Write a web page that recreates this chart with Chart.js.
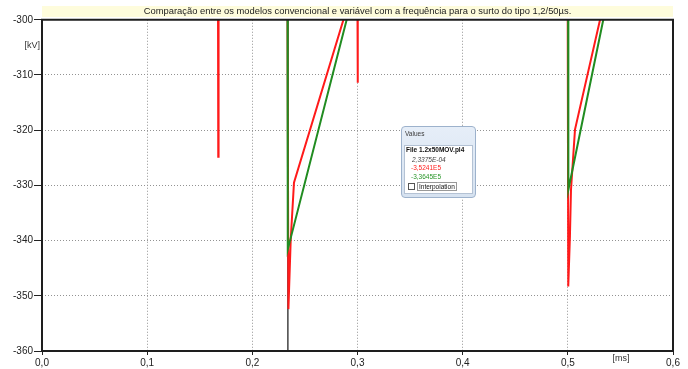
<!DOCTYPE html>
<html>
<head>
<meta charset="utf-8">
<script src="https://cdn.jsdelivr.net/npm/chart.js@4/dist/chart.umd.min.js"></script>
<style>
  html, body { margin: 0; padding: 0; background: #fff; }
  #wrap { position: relative; width: 688px; height: 369px; }
  canvas { display: block; }
  #vals { position: absolute; left: 401px; top: 126px; width: 73px; height: 70px;
          border: 1px solid #9db2cc; border-radius: 4px;
          background: linear-gradient(#e6eef8, #d6e2f0);
          font-family: "Liberation Sans", Arial, sans-serif; font-size: 6.5px; color: #333; }
  #vals .cap { position: absolute; left: 3px; top: 3px; color: #3a3a3a; }
  #vals .inner { position: absolute; left: 2px; top: 18px; width: 67px; height: 47px;
                 background: #fff; border: 1px solid #b4c2d4; }
  #vals .ln { position: absolute; white-space: nowrap; line-height: 7px; }
  #vals .file { left: 1px; top: 0px; font-weight: bold; color: #111; }
  #vals .t { left: 7px; top: 10px; font-style: italic; color: #444; }
  #vals .r { left: 6px; top: 18px; color: #ff2020; }
  #vals .g { left: 6px; top: 27px; color: #2a962a; }
  #vals .chk { position: absolute; left: 3px; top: 37px; width: 5px; height: 5px;
               border: 1px solid #555; background: #fff; }
  #vals .ip { position: absolute; left: 12px; top: 36px; padding: 0 1px; line-height: 7px;
              border: 1px solid #999; color: #111; }
</style>
</head>
<body>
<div id="wrap">
  <canvas id="c" width="688" height="369"></canvas>
  <div id="vals">
    <div class="cap">Values</div>
    <div class="inner">
      <div class="ln file">File 1.2x50MOV.pl4</div>
      <div class="ln t" id="vt"></div>
      <div class="ln r" id="vr"></div>
      <div class="ln g" id="vg"></div>
      <div class="chk"></div>
      <div class="ip">Interpolation</div>
    </div>
  </div>
</div>
<script>
// Surge voltage at the node, zoomed on the -300 … -360 kV window (time in ms)
const chartTitle = 'Comparação entre os modelos convencional e variável com a frequência para o surto do tipo 1,2/50µs.';
const yUnit = '[kV]';
const xUnit = '[ms]';

const xTickValues = [0, 0.1, 0.2, 0.3, 0.4, 0.5, 0.6];
const yTickValues = [-360, -350, -340, -330, -320, -310, -300];

// frequency-dependent model (red)
const redTime = [0.0, 0.1673, 0.1676, 0.1679, 0.2333, 0.2343, 0.2365, 0.2396, 0.2930,
                 0.2998, 0.3001, 0.3004, 0.4998, 0.5004, 0.5020, 0.5030, 0.5068, 0.5354, 0.6];
const redKV   = [-290, -290, -324.8, -290, -290, -352.41, -339.8, -329.5, -296,
                 -290, -311.4, -290, -290, -348.3, -339.2, -330.8, -319.9, -296, -290];

// conventional model (green)
const greenTime = [0.0, 0.2334, 0.2337, 0.2897, 0.2950, 0.5002, 0.5005, 0.5337, 0.5380, 0.6];
const greenKV   = [-290, -290, -341.6, -300, -296, -290, -330.8, -300, -296, -290];

// cursor readout
const cursorTime = 0.23375;
const cursorRed = -352.41;
const cursorGreen = -336.45;

const toPoints = (xs, ys) => xs.map((x, i) => ({ x, y: ys[i] }));

document.getElementById('vt').textContent = (cursorTime / 1000).toExponential(4).replace('.', ',').replace('e-', 'E-0');
document.getElementById('vr').textContent = (cursorRed * 1000).toExponential(4).replace('.', ',').replace('e+', 'E');
document.getElementById('vg').textContent = (cursorGreen * 1000).toExponential(4).replace('.', ',').replace('e+', 'E');

const FONT = '"Liberation Sans", Arial, sans-serif';

const decor = {
  id: 'decor',
  beforeDraw(chart) {
    const { ctx, chartArea } = chart;
    ctx.save();
    ctx.fillStyle = '#fefcdc';
    ctx.fillRect(chartArea.left, 6, chartArea.right - chartArea.left, 11);
    ctx.restore();
  },
  afterDraw(chart) {
    const { ctx, chartArea, scales } = chart;
    ctx.save();
    ctx.strokeStyle = '#1e1e1e';
    ctx.lineWidth = 2;
    ctx.strokeRect(chartArea.left, chartArea.top, chartArea.right - chartArea.left, chartArea.bottom - chartArea.top);
    ctx.fillStyle = '#333';
    ctx.font = '9px ' + FONT;
    ctx.textAlign = 'right';
    ctx.textBaseline = 'middle';
    ctx.fillText(yUnit, chartArea.left - 2, scales.y.getPixelForValue(-304.6));
    ctx.textAlign = 'center';
    ctx.fillText(xUnit, scales.x.getPixelForValue(0.5505), chartArea.bottom + 8);
    ctx.restore();
  }
};

new Chart(document.getElementById('c'), {
  type: 'line',
  data: {
    datasets: [
      { label: 'convencional', data: toPoints(greenTime, greenKV), borderColor: '#218c21',
        borderWidth: 2, pointRadius: 0, tension: 0 },
      { label: 'variável', data: toPoints(redTime, redKV), borderColor: '#ff1a1a',
        borderWidth: 2, pointRadius: 0, tension: 0 },
      { label: 'cursor', data: [{ x: cursorTime, y: -300 }, { x: cursorTime, y: -360 }],
        borderColor: '#555', borderWidth: 1, pointRadius: 0 }
    ]
  },
  options: {
    responsive: false,
    animation: false,
    devicePixelRatio: 1,
    layout: { padding: { top: 0, right: 15, left: 0, bottom: 0 } },
    plugins: {
      legend: { display: false },
      tooltip: { enabled: false },
      title: {
        display: true, text: chartTitle, fullSize: false, color: '#222',
        font: { family: FONT, size: 9.4, weight: 'normal', lineHeight: 1.25 },
        padding: { top: 6, bottom: 2 }
      }
    },
    scales: {
      x: {
        type: 'linear', min: 0, max: 0.6,
        afterBuildTicks: (s) => { s.ticks = xTickValues.map(v => ({ value: v })); },
        afterFit: (s) => { s.height = 18; },
        ticks: { color: '#222', font: { family: FONT, size: 10 }, padding: 2, maxRotation: 0,
                 callback: (v) => v.toFixed(1).replace('.', ',') },
        grid: { color: '#939393', tickColor: '#222', tickLength: 4, lineWidth: 1 },
        border: { display: false, dash: [1, 2] }
      },
      y: {
        type: 'linear', min: -360, max: -300,
        afterBuildTicks: (s) => { s.ticks = yTickValues.map(v => ({ value: v })); },
        afterFit: (s) => { s.width = 42; },
        ticks: { color: '#222', font: { family: FONT, size: 10 }, padding: 1,
                 callback: (v) => String(v) },
        grid: { color: '#939393', tickColor: '#222', tickLength: 8, lineWidth: 1 },
        border: { display: false, dash: [1, 2] }
      }
    }
  },
  plugins: [decor]
});
</script>
</body>
</html>
